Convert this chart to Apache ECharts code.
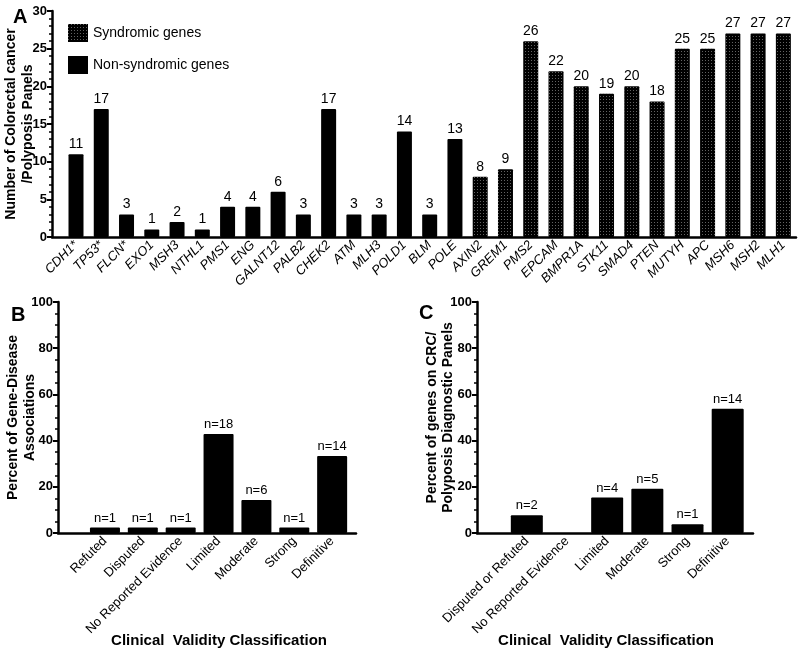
<!DOCTYPE html>
<html><head><meta charset="utf-8">
<script src="https://cdn.jsdelivr.net/npm/echarts@6/dist/echarts.min.js"></script>
<style>html,body{margin:0;padding:0;background:#fff}#c{width:800px;height:650px}</style>
</head><body><div id="c"></div>
<script>
// Panel A
const genes = ['CDH1*','TP53*','FLCN*','EXO1','MSH3','NTHL1','PMS1','ENG','GALNT12','PALB2','CHEK2','ATM','MLH3','POLD1','BLM','POLE','AXIN2','GREM1','PMS2','EPCAM','BMPR1A','STK11','SMAD4','PTEN','MUTYH','APC','MSH6','MSH2','MLH1'];
const panelCounts = [11,17,3,1,2,1,4,4,6,3,17,3,3,14,3,13,8,9,26,22,20,19,20,18,25,25,27,27,27];
const syndromic = [0,0,0,0,0,0,0,0,0,0,0,0,0,0,0,0,1,1,1,1,1,1,1,1,1,1,1,1,1];
// Panel B
const catsB = ['Refuted','Disputed','No Reported Evidence','Limited','Moderate','Strong','Definitive'];
const pctB = [2.4,2.4,2.4,42.9,14.3,2.4,33.3];
const nB = [1,1,1,18,6,1,14];
// Panel C
const catsC = ['Disputed or Refuted','No Reported Evidence','Limited','Moderate','Strong','Definitive'];
const pctC = [7.7,0,15.4,19.2,3.8,53.8];
const nC = [2,0,4,5,1,14];

const FONT = 'Liberation Sans, Arial, sans-serif';
const chart = echarts.init(document.getElementById('c'), null, {renderer:'canvas'});

function axisLine(){ return {show:true, onZero:false, lineStyle:{color:'#000', width:2.5}}; }
function yAxis(grid, max, interval, minorSplit, name, gap, lh){
  return {type:'value', gridIndex:grid, min:0, max:max, interval:interval,
    axisLine:axisLine(), axisTick:{show:true, length:5, lineStyle:{color:'#000',width:2}},
    minorTick:{show:true, splitNumber:minorSplit, length:3, lineStyle:{color:'#000',width:1.5}},
    splitLine:{show:false},
    axisLabel:{color:'#000', fontWeight:'bold', fontSize:13, fontFamily:FONT, margin:5},
    name:name, nameLocation:'middle', nameGap:gap, nameRotate:90, nameMoveOverlap:false,
    nameTextStyle:{color:'#000', fontWeight:'bold', fontSize:14, fontFamily:FONT, lineHeight:lh}};
}
function xAxis(grid, cats, min, max, italic, namePad){
  const o = {type:'value', gridIndex:grid, min:min, max:max,
    axisLine:axisLine(), axisTick:{show:false}, splitLine:{show:false},
    axisLabel:{customValues:cats.map((_,i)=>i), formatter:v=>cats[v]||'', rotate:45, color:'#000',
      fontSize:13, fontFamily:FONT, fontStyle: italic?'italic':'normal', margin:6}};
  if (namePad){
    o.name='Clinical  Validity Classification'; o.nameLocation='middle'; o.nameGap=100; o.nameMoveOverlap=false;
    o.nameTextStyle={color:'#000', fontWeight:'bold', fontSize:15, fontFamily:FONT, padding:namePad};
  }
  return o;
}
const decal = {symbol:'rect', symbolSize:1, color:'rgba(110,110,110,0.9)', dashArrayX:[1,2], dashArrayY:[1,2]};
const lblStyle = {show:true, position:'top', color:'#000', fontSize:13, fontFamily:FONT, distance:3};
const lblA = Object.assign({}, lblStyle, {fontSize:14});

const option = {
  animation:false,
  textStyle:{fontFamily:FONT},
  title:[
    {text:'A', left:8, top:2, textStyle:{fontSize:20, fontWeight:'bold', color:'#000', fontFamily:FONT}},
    {text:'B', left:6, top:300, textStyle:{fontSize:20, fontWeight:'bold', color:'#000', fontFamily:FONT}},
    {text:'C', left:414, top:298, textStyle:{fontSize:20, fontWeight:'bold', color:'#000', fontFamily:FONT}}
  ],
  legend:{data:['Syndromic genes','Non-syndromic genes'], orient:'vertical', left:63, top:19, icon:'rect',
    itemWidth:20, itemHeight:18, itemGap:14, textStyle:{fontSize:14, color:'#000', fontFamily:FONT}},
  grid:[
    {left:52, right:4, top:11, bottom:413, outerBoundsMode:'none', containLabel:false},
    {left:58, right:444, top:302, bottom:117, outerBoundsMode:'none', containLabel:false},
    {left:477, right:47, top:302, bottom:117, outerBoundsMode:'none', containLabel:false}
  ],
  xAxis:[
    xAxis(0, genes, -0.95, 28.5, true, null),
    xAxis(1, catsB, -1.24, 6.63, false, [0,0,0,24]),
    xAxis(2, catsC, -1.24, 5.63, false, [0,18,0,0])
  ],
  yAxis:[
    yAxis(0, 30, 5, 5, 'Number of Colorectal cancer\n/Polyposis Panels', 15, 17),
    yAxis(1, 100, 20, 4, 'Percent of Gene-Disease\nAssociations', 19, 17),
    yAxis(2, 100, 20, 4, 'Percent of genes on CRC/\nPolyposis Diagnostic Panels', 21, 16)
  ],
  series:[
    {name:'Syndromic genes', type:'bar', xAxisIndex:0, yAxisIndex:0, barWidth:15, barGap:'-100%',
      itemStyle:{color:'#000', borderRadius:1, decal:decal},
      label:Object.assign({formatter:p=>p.value[1]}, lblA),
      data: genes.map((g,i)=>[i,panelCounts[i]]).filter((d,i)=>syndromic[i])},
    {name:'Non-syndromic genes', type:'bar', xAxisIndex:0, yAxisIndex:0, barWidth:15, barGap:'-100%',
      itemStyle:{color:'#000', borderRadius:1},
      label:Object.assign({formatter:p=>p.value[1]}, lblA),
      data: genes.map((g,i)=>[i,panelCounts[i]]).filter((d,i)=>!syndromic[i])},
    {name:'B', type:'bar', xAxisIndex:1, yAxisIndex:1, barWidth:30,
      itemStyle:{color:'#000', borderRadius:1},
      label:Object.assign({formatter:p=>'n='+nB[p.value[0]]}, lblStyle),
      data: catsB.map((c,i)=>[i,pctB[i]])},
    {name:'C', type:'bar', xAxisIndex:2, yAxisIndex:2, barWidth:32,
      itemStyle:{color:'#000', borderRadius:1},
      label:Object.assign({formatter:p=>nC[p.value[0]]?'n='+nC[p.value[0]]:''}, lblStyle),
      data: catsC.map((c,i)=>[i,pctC[i]])}
  ]
};
chart.setOption(option);
</script></body></html>
